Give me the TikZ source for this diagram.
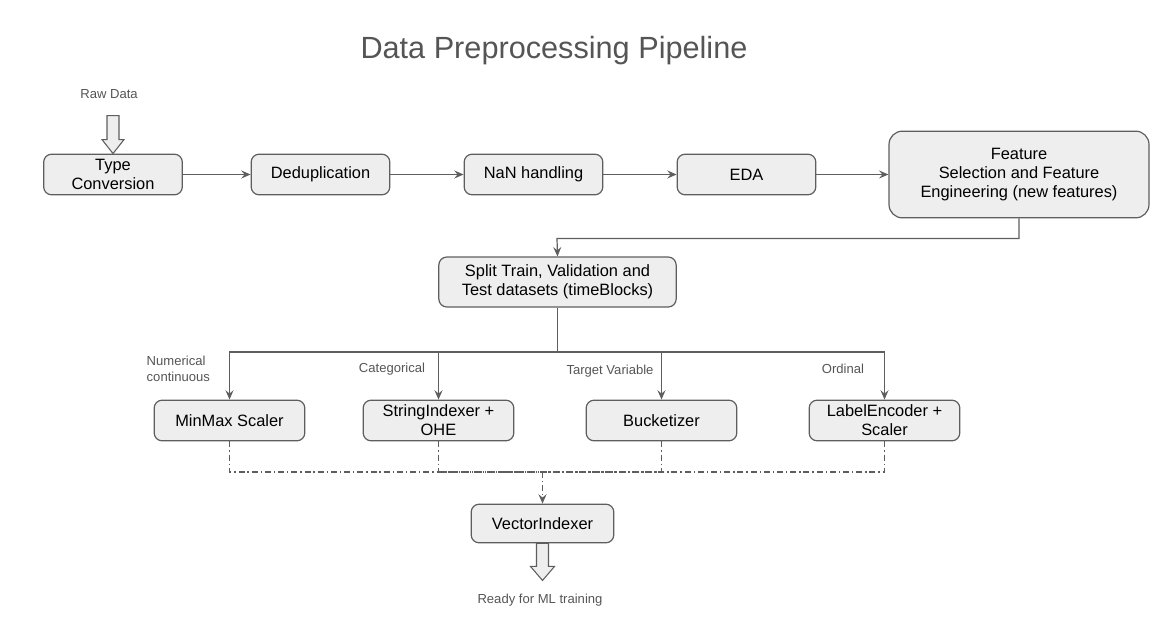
\documentclass[tikz,border=0pt]{standalone}
\usepackage{fontspec}
\setmainfont{Liberation Sans}
\usetikzlibrary{arrows.meta,calc}
\definecolor{linegray}{HTML}{5E5E5E}
\definecolor{boxfill}{HTML}{EEEEEE}
\definecolor{textgray}{HTML}{555555}

\begin{document}
\begin{tikzpicture}[x=0.75pt,y=-0.75pt]
\tikzstyle{stepbox} = [draw=linegray,fill=boxfill,rounded corners=6pt,line width=0.9pt,align=center,
  minimum width=104pt,minimum height=30.5pt,font=\fontsize{12.3}{14.3}\selectfont]
\tikzstyle{note} = [text=textgray,font=\fontsize{9.8}{12}\selectfont,align=center]
\tikzstyle{flow} = [draw=linegray,line width=0.9pt,-{Stealth[length=7pt,width=6pt,inset=2.5pt]}]
\tikzstyle{merge} = [draw=linegray,line width=0.9pt,dash pattern=on 4.5pt off 2.2pt on 1pt off 2.2pt]
\tikzstyle{fat} = [draw=linegray,fill=boxfill,line width=0.8pt,line join=miter]

\useasboundingbox (0,0) rectangle (1167,621);

\node[text=textgray,font=\fontsize{23}{27}\selectfont] (title) at (554,51) {Data Preprocessing Pipeline};

% first row
\node[note] (raw) at (109,94) {Raw Data};
\node[stepbox] (tc) at (113,174.5) {Type\\Conversion};
\node[stepbox] (dd) at (320.5,174.5) {Deduplication};
\node[stepbox] (nan) at (533.5,174.5) {NaN handling};
\node[stepbox] (eda) at (746.5,174.5) {EDA};
\node[stepbox,minimum width=195pt,minimum height=65pt,rounded corners=10pt] (fe) at (1019,174.5)
  {Feature\\Selection and Feature\\Engineering (new features)};

% split
\node[stepbox,minimum width=178pt,minimum height=37.5pt] (split) at (557.5,282)
  {Split Train, Validation and\\Test datasets (timeBlocks)};

% encoders
\node[stepbox,minimum width=113pt] (mm) at (229.5,420.5) {MinMax Scaler};
\node[stepbox,minimum width=113pt] (si) at (438.5,420.5) {StringIndexer +\\OHE};
\node[stepbox,minimum width=113pt] (bk) at (661.5,420.5) {Bucketizer};
\node[stepbox,minimum width=113pt] (le) at (884.5,420.5) {LabelEncoder +\\Scaler};

\node[note,align=left,anchor=west] (num) at (142,369) {Numerical\\continuous};
\node[note] (cat) at (392,369) {Categorical};
\node[note] (tgt) at (610,371) {Target Variable};
\node[note] (ord) at (843,369) {Ordinal};

\node[stepbox,minimum width=107pt,minimum height=29pt] (vi) at (542.5,523.5) {VectorIndexer};
\node[note] (ready) at (540,600) {Ready for ML training};

\coordinate (fork) at (557.5,352);
\coordinate (join) at (542.5,472);

% block arrows
\draw[fat] (tc.north) ++(-6,-38) -- ++(12,0) -- ++(0,24) -- ++(5,0) -- ++(-11,14) -- ++(-11,-14) -- ++(5,0) -- cycle;
\draw[fat] (vi.south) ++(-6,0) -- ++(12,0) -- ++(0,23) -- ++(6,0) -- ++(-12,14) -- ++(-12,-14) -- ++(6,0) -- cycle;

% main flow
\draw[flow] (tc) -- (dd);
\draw[flow] (dd) -- (nan);
\draw[flow] (nan) -- (eda);
\draw[flow] (eda) -- (fe);
\draw[flow] (fe.south) |- ++(-462,20) -- (split.north);

\draw[draw=linegray,line width=0.9pt] (split.south) -- (fork);
\draw[flow] (fork) -| (mm.north);
\draw[flow] (fork) -| (si.north);
\draw[flow] (fork) -| (bk.north);
\draw[flow] (fork) -| (le.north);

\draw[merge] (mm.south) |- (join);
\draw[merge] (si.south) |- (join);
\draw[merge] (bk.south) |- (join);
\draw[merge] (le.south) |- (join);
\draw[merge,-{Stealth[length=7pt,width=6pt,inset=2.5pt]}] (join) -- (vi.north);
\end{tikzpicture}
\end{document}
